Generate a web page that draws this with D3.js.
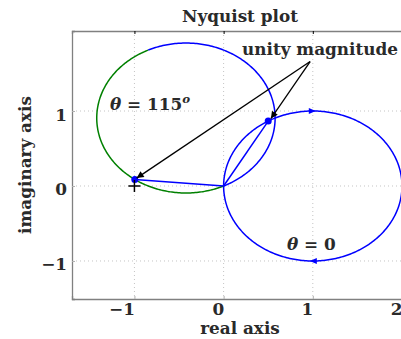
<!DOCTYPE html>
<html>
<head>
<meta charset="utf-8">
<script src="https://cdn.jsdelivr.net/npm/d3@7"></script>
<style>
  body { margin: 0; background: #fff; }
  text { font-family: "DejaVu Serif", serif; font-weight: bold; fill: #2a2a2a; }
</style>
</head>
<body>
<div id="container"></div>
<script>
// axis ticks
var xTicks = [-1, 0, 1, 2];
var yTicks = [-1, 0, 1];

// nyquist loop for theta = 0: circle through the origin
var loopCentre = [1, 0];
var loopRadius = 1;
// rotation of the loop (degrees) and colours of its two halves [upper, lower]
var rotations = [0, 115];
var halfColours = { 0: ["blue", "blue"], 115: ["green", "blue"] };

// direction arrows on the theta = 0 loop (angle on the circle, degrees)
var loopArrowAngles = [90, 270];

// unity magnitude crossings and the -1 point
var unityPoints = [[0.5, 0.866], [-0.996, 0.087]];
var criticalPoint = [-1, 0];

// annotation arrows from the label to the crossings
var labelAnchor = [0.97, 1.66];
var arrowTips = [[0.53, 0.9], [-0.975, 0.105]];

function createNyquist() {
  var W = 401, H = 339;
  var margin = {top: 31, right: -1, bottom: 40, left: 72};
  var width = W - margin.left - margin.right,
      height = H - margin.top - margin.bottom;

  var svg = d3.select("#container").append("svg")
      .attr("width", W).attr("height", H).attr("id", "chart");

  var defs = svg.append("defs");
  defs.append("marker")
      .attr("id", "head").attr("viewBox", "0 0 10 10")
      .attr("refX", 10).attr("refY", 5)
      .attr("markerUnits", "userSpaceOnUse")
      .attr("markerWidth", 9).attr("markerHeight", 7)
      .attr("orient", "auto")
    .append("path").attr("d", "M0,0 L10,5 L0,10 z").attr("fill", "#000");

  var g = svg.append("g")
      .attr("transform", "translate(" + margin.left + "," + margin.top + ")");

  var x = d3.scaleLinear().domain([-1.7, 2]).range([0, width]);
  var y = d3.scaleLinear().domain([-1.507, 2.067]).range([height, 0]);

  // font size fitted to the title width of the original
  var probe = svg.append("text").attr("font-size", 20).text("Nyquist plot");
  var fs = 20 * 116 / probe.node().getComputedTextLength();
  probe.remove();

  // grid
  g.append("g").selectAll("line").data(xTicks).join("line")
      .attr("x1", d => x(d)).attr("x2", d => x(d))
      .attr("y1", 0).attr("y2", height)
      .attr("stroke", "#c4c4c4").attr("stroke-width", 1)
      .attr("stroke-dasharray", "1,3");
  g.append("g").selectAll("line").data(yTicks).join("line")
      .attr("x1", 0).attr("x2", width)
      .attr("y1", d => y(d)).attr("y2", d => y(d))
      .attr("stroke", "#c4c4c4").attr("stroke-width", 1)
      .attr("stroke-dasharray", "1,3");

  // axes
  var fmt = d => d < 0 ? "\u2212" + Math.abs(d) : String(d);
  var xAxis = g.append("g")
      .attr("transform", "translate(0," + height + ")")
      .call(d3.axisBottom(x).tickValues(xTicks).tickSize(-3).tickPadding(0).tickFormat(fmt));
  var yAxis = g.append("g")
      .call(d3.axisLeft(y).tickValues(yTicks).tickSize(-3).tickPadding(0).tickFormat(fmt));
  g.append("g")
      .call(d3.axisTop(x).tickValues(xTicks).tickSize(-3).tickFormat(""));
  [xAxis, yAxis].forEach(function(a) {
    a.select(".domain").attr("stroke", "#808080").attr("stroke-width", 1.3);
    a.selectAll(".tick line").attr("stroke", "#b0b0b0");
    a.selectAll("text").attr("fill", "#2a2a2a").attr("font-size", fs)
      .attr("font-family", "DejaVu Serif").attr("font-weight", "bold");
  });
  g.selectAll(".domain").attr("stroke", "#808080").attr("stroke-width", 1.3);
  xAxis.selectAll("text").attr("text-anchor", "end").attr("x", 0).attr("dy", null).attr("y", 16);
  yAxis.selectAll("text").attr("text-anchor", "end").attr("x", -5).attr("dy", null).attr("y", 9);

  // nyquist loops
  var line = d3.line().x(d => x(d[0])).y(d => y(d[1]));
  function loopPoint(phi, rot) {
    var a = phi * Math.PI / 180, r = rot * Math.PI / 180;
    var px = loopCentre[0] + loopRadius * Math.cos(a),
        py = loopCentre[1] + loopRadius * Math.sin(a);
    return [px * Math.cos(r) - py * Math.sin(r), px * Math.sin(r) + py * Math.cos(r)];
  }
  rotations.forEach(function(rot) {
    [[0, 180], [180, 360]].forEach(function(span, i) {
      var pts = d3.range(span[0], span[1] + 0.5, 1).map(p => loopPoint(p, rot));
      g.append("path").datum(pts)
          .attr("fill", "none")
          .attr("stroke", halfColours[rot][i] === "green" ? "#008000" : "#0000ff")
          .attr("stroke-width", 1.5)
          .attr("d", line);
    });
  });

  // direction arrows on the theta = 0 loop (travel with decreasing angle)
  loopArrowAngles.forEach(function(phi) {
    var p = loopPoint(phi, 0), q = loopPoint(phi - 1, 0);
    var ang = Math.atan2(y(q[1]) - y(p[1]), x(q[0]) - x(p[0])) * 180 / Math.PI;
    g.append("path")
        .attr("d", "M3,0 L-4,-3 L-4,3 z")
        .attr("fill", "#0000ff")
        .attr("transform", "translate(" + x(p[0]) + "," + y(p[1]) + ") rotate(" + ang + ")");
  });

  // lines from the origin to the unity crossings
  unityPoints.forEach(function(p) {
    g.append("path").datum([[0, 0], p])
        .attr("fill", "none").attr("stroke", "#0000ff").attr("stroke-width", 1.5)
        .attr("d", line);
  });
  g.selectAll(".dot").data(unityPoints).join("circle")
      .attr("cx", d => x(d[0])).attr("cy", d => y(d[1])).attr("r", 3.5)
      .attr("fill", "#0000ff");

  // -1 point
  g.append("path")
      .attr("d", "M-6,0 H6 M0,-6 V6")
      .attr("stroke", "#000").attr("stroke-width", 1.5)
      .attr("transform", "translate(" + x(criticalPoint[0]) + "," + y(criticalPoint[1]) + ")");

  // annotation arrows
  arrowTips.forEach(function(t) {
    g.append("path").datum([labelAnchor, t])
        .attr("fill", "none").attr("stroke", "#000").attr("stroke-width", 1.3)
        .attr("marker-end", "url(#head)")
        .attr("d", line);
  });

  // texts
  svg.append("text").attr("x", 240).attr("y", 22).attr("text-anchor", "middle")
      .attr("font-size", fs).text("Nyquist plot");
  svg.append("text").attr("x", 240).attr("y", 334).attr("text-anchor", "middle")
      .attr("font-size", fs).text("real axis");
  svg.append("text").attr("transform", "translate(31,165) rotate(-90)")
      .attr("text-anchor", "middle").attr("font-size", fs).text("imaginary axis");
  svg.append("text").attr("x", 242).attr("y", 55).attr("font-size", fs).text("unity magnitude");

  var t1 = svg.append("text").attr("x", 110).attr("y", 110).attr("font-size", fs);
  t1.append("tspan").attr("font-style", "italic").text("\u03b8");
  t1.append("tspan").text(" = 115");
  t1.append("tspan").attr("font-style", "italic").attr("font-size", fs * 0.7)
      .attr("dy", -7).text("o");

  var t2 = svg.append("text").attr("x", 287).attr("y", 250).attr("font-size", fs);
  t2.append("tspan").attr("font-style", "italic").text("\u03b8");
  t2.append("tspan").text(" = 0");
}
createNyquist();
</script>
</body>
</html>
